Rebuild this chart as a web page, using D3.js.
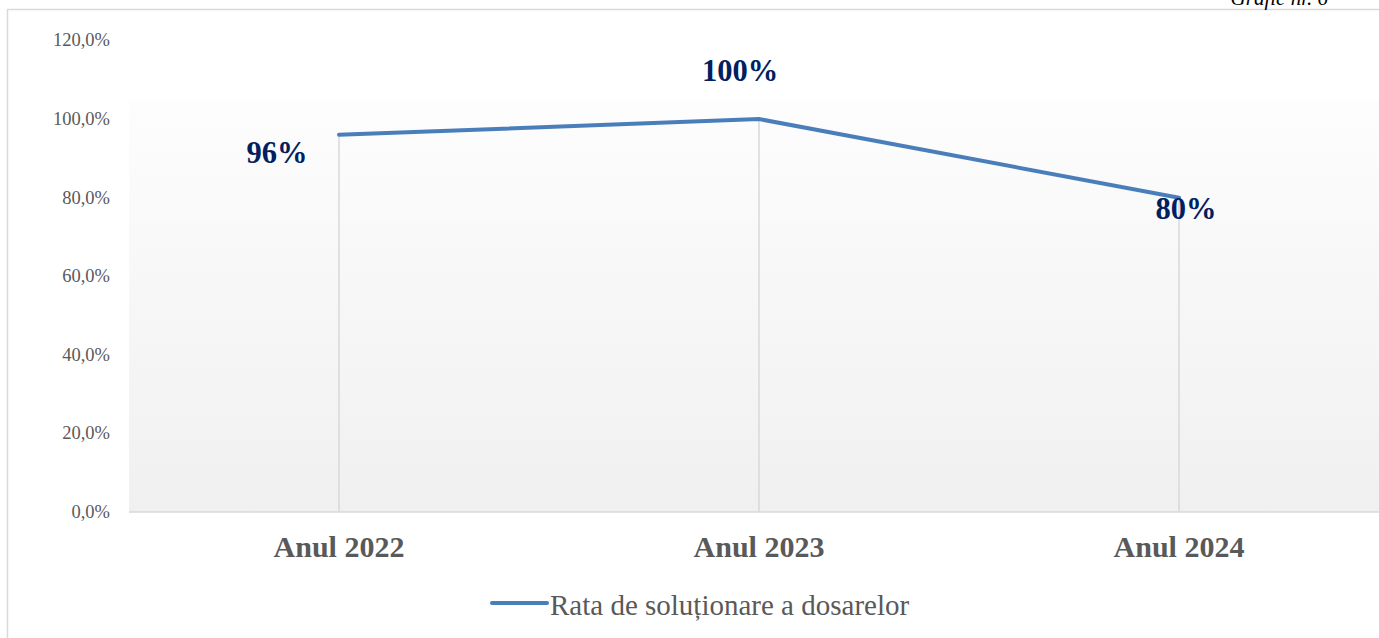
<!DOCTYPE html>
<html>
<head>
<meta charset="utf-8">
<script src="https://cdnjs.cloudflare.com/ajax/libs/d3/7.8.5/d3.min.js"></script>
<style>
  html, body { margin: 0; padding: 0; background: #fff; overflow: hidden; }
  svg { display: block; font-family: "Liberation Serif", "Times New Roman", serif; }
</style>
</head>
<body>
<svg id="chart" width="1379" height="638"></svg>
<script>
// Chart values.
const years = ["Anul 2022", "Anul 2023", "Anul 2024"];
const rates = [0.96, 1.00, 0.80];
const rateLabels = ["96%", "100%", "80%"];
const labelPlace = ["left", "above", "below"];
const yTicks = [0, 0.2, 0.4, 0.6, 0.8, 1.0, 1.2];
const seriesName = "Rata de soluționare a dosarelor";
const caption = "Grafic nr. 6";

const svg = d3.select("#chart");
const W = 1379, H = 638;
const plot = { left: 129, right: 1389, top: 40.5, bottom: 512 };

const x = d3.scaleBand().domain(years).range([plot.left, plot.right]);
const y = d3.scaleLinear().domain([0, 1.2]).range([plot.bottom, plot.top]);
const fmt = v => d3.format(".1f")(v * 100).replace(".", ",") + "%";

// outer chart frame (runs past the window on the right and bottom)
svg.append("rect")
  .attr("x", 7.5).attr("y", 9.5)
  .attr("width", W + 20).attr("height", H + 20)
  .attr("fill", "none").attr("stroke", "#d9d9d9").attr("stroke-width", 1.5);

// caption sits above the frame, its top half cropped like in the source page
svg.append("text")
  .attr("x", 1328).attr("y", 5)
  .attr("text-anchor", "end")
  .attr("font-size", 21).attr("font-style", "italic")
  .attr("fill", "#000")
  .text(caption);

// plot area gradient fill
const defs = svg.append("defs");
const grad = defs.append("linearGradient").attr("id", "bg").attr("x1", 0).attr("y1", 0).attr("x2", 0).attr("y2", 1);
grad.append("stop").attr("offset", "0%").attr("stop-color", "#fdfdfd");
grad.append("stop").attr("offset", "100%").attr("stop-color", "#f0f0f0");
svg.append("rect")
  .attr("x", plot.left).attr("y", 100)
  .attr("width", plot.right - plot.left).attr("height", plot.bottom - 100)
  .attr("fill", "url(#bg)");

// y axis labels (no gridlines)
svg.append("g").selectAll("text").data(yTicks).join("text")
  .attr("x", 110).attr("y", d => y(d))
  .attr("dy", "0.32em")
  .attr("text-anchor", "end")
  .attr("font-size", 18.5).attr("fill", "#595959")
  .text(fmt);

// drop lines from points to the axis
const cx = d => x(d) + x.bandwidth() / 2;
svg.append("g").selectAll("line").data(years).join("line")
  .attr("x1", cx).attr("x2", cx)
  .attr("y1", (d, i) => y(rates[i])).attr("y2", plot.bottom)
  .attr("stroke", "#d9d9d9").attr("stroke-width", 1.5);

// x axis line
svg.append("line")
  .attr("x1", plot.left).attr("x2", plot.right)
  .attr("y1", plot.bottom).attr("y2", plot.bottom)
  .attr("stroke", "#d9d9d9").attr("stroke-width", 1.5);

// category labels
svg.append("g").selectAll("text").data(years).join("text")
  .attr("x", cx).attr("y", 557)
  .attr("text-anchor", "middle")
  .attr("font-size", 30).attr("font-weight", "bold").attr("fill", "#595959")
  .text(d => d);

// the series line
const line = d3.line().x((d, i) => cx(years[i])).y(d => y(d));
svg.append("path")
  .datum(rates)
  .attr("d", line)
  .attr("fill", "none")
  .attr("stroke", "#4a7ebb").attr("stroke-width", 4)
  .attr("stroke-linejoin", "round").attr("stroke-linecap", "round");

// data labels
const off = {
  left:  { dx: -62, dy: 28 },
  above: { dx: -19, dy: -38 },
  below: { dx: 7, dy: 21 }
};
svg.append("g").selectAll("text").data(rates).join("text")
  .attr("x", (d, i) => cx(years[i]) + off[labelPlace[i]].dx)
  .attr("y", (d, i) => y(d) + off[labelPlace[i]].dy)
  .attr("text-anchor", "middle")
  .attr("font-size", 30.5).attr("font-weight", "bold").attr("fill", "#002060")
  .text((d, i) => rateLabels[i]);

// legend
const lg = svg.append("g").attr("transform", "translate(0,603)");
lg.append("line")
  .attr("x1", 492).attr("x2", 547).attr("y1", 0).attr("y2", 0)
  .attr("stroke", "#4a7ebb").attr("stroke-width", 4).attr("stroke-linecap", "round");
lg.append("text")
  .attr("x", 550).attr("y", 12)
  .attr("font-size", 29).attr("fill", "#595959")
  .text(seriesName);
</script>
</body>
</html>
